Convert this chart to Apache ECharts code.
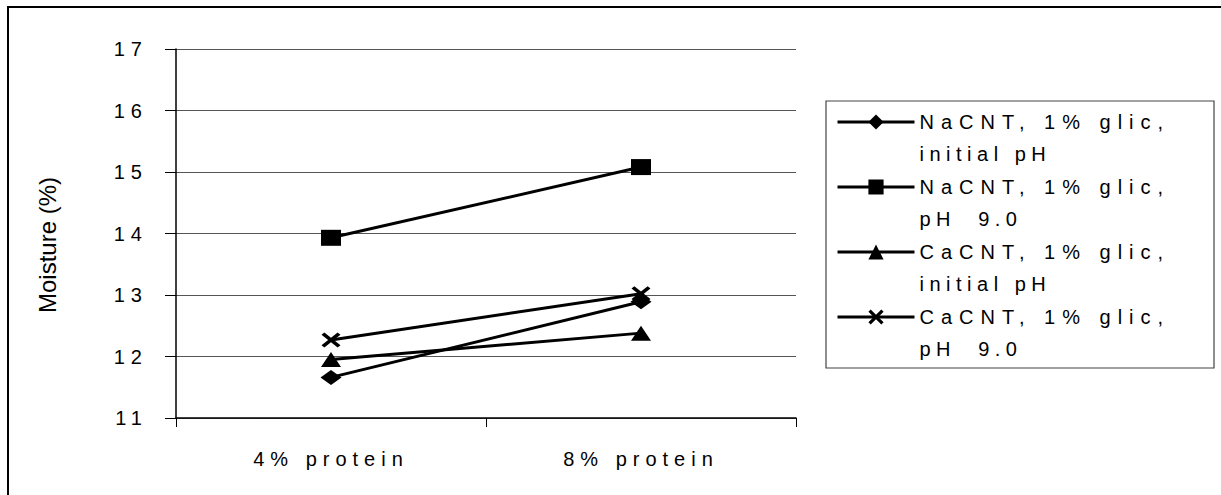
<!DOCTYPE html>
<html>
<head>
<meta charset="utf-8">
<script src="https://cdn.jsdelivr.net/npm/echarts@6/dist/echarts.min.js"></script>
<style>
  html, body { margin: 0; padding: 0; background: #fff; }
  #chart { width: 1221px; height: 495px; }
</style>
</head>
<body>
<div id="chart"></div>
<script>
const categories = ['4% protein', '8% protein'];
const seriesNames = [
  'NaCNT, 1% glic,\ninitial pH',
  'NaCNT, 1% glic,\npH  9.0',
  'CaCNT, 1% glic,\ninitial pH',
  'CaCNT, 1% glic,\npH  9.0'
];
const naInitial = [11.66, 12.89];
const naPh9 = [13.93, 15.08];
const caInitial = [11.95, 12.38];
const caPh9 = [12.27, 13.02];
const yTicks = { min: 11, max: 17, interval: 1 };
const yTitle = 'Moisture (%)';

const FONT = 'Liberation Sans, Arial, sans-serif';
const crossPath = 'path://M0,1.5 L1.5,0 L5,3.5 L8.5,0 L10,1.5 L6.5,5 L10,8.5 L8.5,10 L5,6.5 L1.5,10 L0,8.5 L3.5,5 Z';

function mkSeries(name, data, symbol, size) {
  return {
    name: name,
    type: 'line',
    data: data,
    symbol: symbol,
    symbolSize: size,
    showSymbol: true,
    lineStyle: { color: '#000', width: 3 },
    itemStyle: { color: '#000', borderWidth: 0 },
    emphasis: { disabled: true },
    z: 3
  };
}

const chart = echarts.init(document.getElementById('chart'), null, { renderer: 'svg' });
chart.setOption({
  animation: false,
  backgroundColor: '#fff',
  grid: { left: 176, right: 425, top: 49, bottom: 77, containLabel: false },
  xAxis: {
    type: 'category',
    data: categories,
    boundaryGap: true,
    axisLine: { lineStyle: { color: '#000', width: 1.5 } },
    axisTick: { show: true, length: 9, lineStyle: { color: '#000', width: 1 } },
    axisLabel: { color: '#000', fontSize: 20, fontFamily: FONT, margin: 31 },
    splitLine: { show: false }
  },
  yAxis: {
    type: 'value',
    min: yTicks.min,
    max: yTicks.max,
    interval: yTicks.interval,
    axisLine: { show: true, lineStyle: { color: '#000', width: 1.5 } },
    axisTick: { show: true, length: 11, lineStyle: { color: '#000', width: 1 } },
    axisLabel: { color: '#000', fontSize: 20, fontFamily: FONT, margin: 28 },
    splitLine: { show: true, lineStyle: { color: '#555', width: 1 } }
  },
  legend: {
    orient: 'vertical',
    left: 836,
    top: 74,
    padding: 0,
    itemWidth: 77,
    itemHeight: 19,
    itemGap: -31,
    align: 'left',
    selectedMode: false,
    lineStyle: { width: 3, color: '#000' },
    formatter: function (name) { return '\n' + name; },
    textStyle: { color: '#000', fontSize: 20, fontFamily: FONT, lineHeight: 32 },
    data: seriesNames
  },
  graphic: [
    { type: 'rect', shape: { x: 8, y: 7, width: 1400, height: 700 }, style: { fill: 'none', stroke: '#000', lineWidth: 2 }, silent: true, z: 0 },
    { type: 'rect', shape: { x: 826, y: 101, width: 388, height: 267 }, style: { fill: 'none', stroke: '#444', lineWidth: 1.2 }, silent: true, z: 0 },
    { type: 'text', x: 47, y: 245, rotation: Math.PI / 2, style: { text: yTitle, fill: '#000', font: '24px ' + FONT, align: 'center', verticalAlign: 'middle' }, silent: true }
  ],
  series: [
    mkSeries(seriesNames[0], naInitial, 'diamond', [21, 15]),
    mkSeries(seriesNames[1], naPh9, 'rect', [20, 16]),
    mkSeries(seriesNames[2], caInitial, 'triangle', [20, 15]),
    mkSeries(seriesNames[3], caPh9, crossPath, [19, 15])
  ]
});

function spaceText() {
  document.querySelectorAll('#chart svg text').forEach(function (t) {
    const s = t.textContent;
    if (s.indexOf('Moisture') === 0) {
      t.style.letterSpacing = '0px';
    } else if (s.indexOf('CNT') >= 0) {
      t.style.letterSpacing = '7px';
    } else if (s.indexOf('pH') >= 0) {
      t.style.letterSpacing = '5.5px';
    } else {
      t.style.letterSpacing = '6px';
    }
  });
}
spaceText();
chart.on('finished', spaceText);
</script>
</body>
</html>
